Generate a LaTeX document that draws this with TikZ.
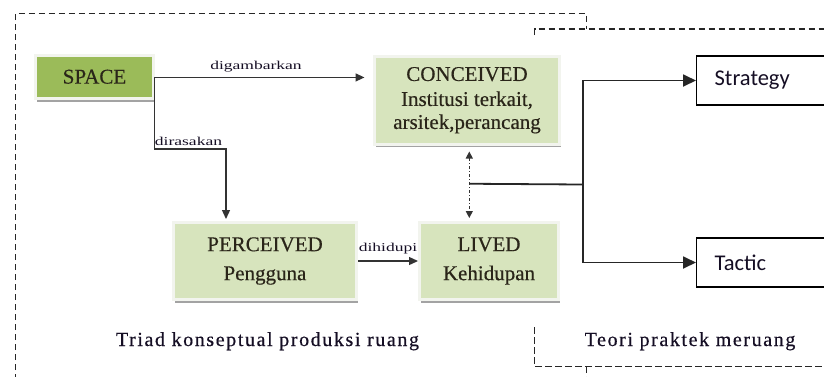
\documentclass[tikz,border=0pt]{standalone}
\usepackage{fontspec}
\setmainfont{Liberation Serif}
\newfontfamily\boxfont[FakeBold=0.4]{Liberation Serif}
\newfontfamily\lblfont[FakeStretch=1.46]{Liberation Serif}
\newfontfamily\capfont[LetterSpace=8,FakeBold=0.4]{Liberation Serif}
\newfontfamily\calfont{Carlito}
\usetikzlibrary{arrows.meta,shadows,calc}
\definecolor{spacegreen}{HTML}{9BBB59}
\definecolor{palegreen}{HTML}{D7E4BD}
\definecolor{glow}{HTML}{F2F4EE}
\definecolor{shadowgray}{HTML}{A3A3A3}
\definecolor{boxtext}{HTML}{2A2519}
\definecolor{linegray}{HTML}{333333}
\definecolor{captext}{HTML}{150E24}
\tikzset{
  gbox/.style={fill=palegreen, draw=glow, line width=3pt,
    drop shadow={shadow xshift=1.2pt, shadow yshift=-3pt, fill=shadowgray, opacity=1},
    text=boxtext, align=center, inner sep=0pt,
    font=\boxfont\fontsize{21}{23}\selectfont},
  wbox/.style={draw=black, fill=white, line width=1.3pt, minimum height=49, text width=140, align=left,
    inner xsep=18pt, inner ysep=0pt, anchor=west, font=\calfont\fontsize{22.5}{24}\selectfont, text=captext},
  arr/.style={-{Triangle[length=9pt,width=8pt]}, line width=1.3pt, draw=linegray},
  bigarr/.style={-{Triangle[length=13pt,width=12pt]}, line width=1.8pt, draw=black!85},
  lbl/.style={font=\lblfont\fontsize{12}{12}\selectfont, text=captext, inner sep=0pt, anchor=base},
  dframe/.style={draw=black!85, line width=1.3pt, dash pattern=on 6.5pt off 3.5pt},
  captxt/.style={font=\capfont\fontsize{20}{22}\selectfont, text=captext, inner sep=0pt, anchor=base}
}
\begin{document}
\begin{tikzpicture}[x=1pt,y=-1pt]
\useasboundingbox (0,0) rectangle (824,376);
\clip (0,0) rectangle (824,376);
\fill[white] (0,0) rectangle (824,376);

% dashed frames
\draw[dframe] (15.5,380) -- (15.5,13.3) -- (586.5,13.3) -- (586.5,29);
\draw[dframe] (534.5,35) -- (534.5,29) -- (830,29);
\draw[dframe] (534.5,327) -- (534.5,366.5) -- (830,366.5);
\draw[dframe] (586.5,366.5) -- (586.5,380);

% boxes
\node[gbox, fill=spacegreen, minimum width=118, minimum height=43.5] (SPACE) at (94.5,76.75) {SPACE};
\node[gbox, minimum width=185, minimum height=87.5] (CONCEIVED) at (467,100.25)
  {CONCEIVED\\[2pt]Institusi terkait,\\arsitek,perancang};
\node[gbox, minimum width=183, minimum height=77, font=\boxfont\fontsize{21}{29}\selectfont] (PERCEIVED) at (265,261)
  {PERCEIVED\\Pengguna};
\node[gbox, minimum width=139, minimum height=77, font=\boxfont\fontsize{21}{29}\selectfont] (LIVED) at (489,261)
  {LIVED\\Kehidupan};
\node[wbox] (STRATEGY) at (696,80.5) {Strategy};
\node[wbox] (TACTIC) at (696,262.5) {Tactic};

% connectors
\coordinate (sp) at ($(SPACE.east)+(-0.5,0.7)$);
\draw[arr, shorten >=8.5pt] (sp) -- (sp -| CONCEIVED.west);
\coordinate (pin) at ($(PERCEIVED.north west)+(54,0)$);
\draw[arr, shorten >=2pt] (sp) |- ($(pin)+(0,-72)$) -- (pin);
\draw[arr] (PERCEIVED.east) -- (LIVED.west);
\coordinate (top) at ($(CONCEIVED.south)+(2.3,0)$);
\coordinate (bot) at (top |- LIVED.north);
\draw[line width=1.2pt, draw=linegray, dash pattern=on 3pt off 2pt on 1pt off 2pt,
  {Triangle[length=7pt,width=7pt]}-{Triangle[length=7pt,width=7pt]}, shorten <=6pt, shorten >=3pt] (top) -- (bot);
\coordinate (mid) at ($(top)!0.5!(bot)+(0,0.5)$);
\coordinate (junc) at (582.7,184.5);
\draw[line width=1.8pt, draw=black!85] (mid) -- (junc);
\draw[bigarr] (junc) |- (STRATEGY.west);
\draw[bigarr] (junc) |- (TACTIC.west);

% labels
\node[lbl] (L1) at (256,69) {digambarkan};
\node[lbl] (L2) at (188.5,145) {dirasakan};
\node[lbl] (L3) at (388,251) {dihidupi};

% captions
\node[captxt] (C1) at (267.5,346) {Triad konseptual produksi ruang};
\node[captxt] (C2) at (690,346) {Teori praktek meruang};
\end{tikzpicture}
\end{document}
